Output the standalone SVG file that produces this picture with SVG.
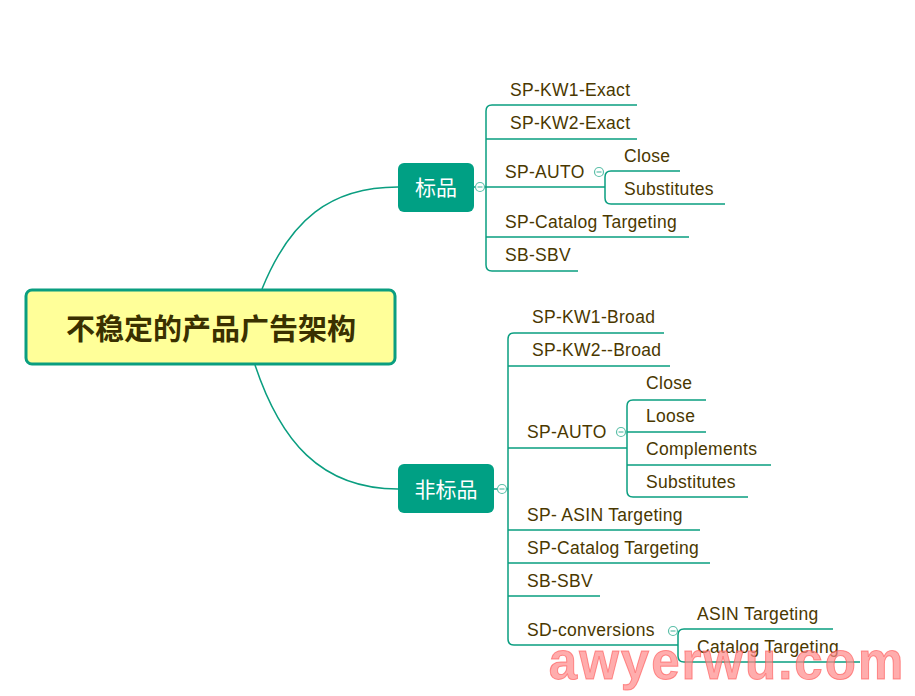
<svg xmlns="http://www.w3.org/2000/svg" width="915" height="696" viewBox="0 0 915 696">
<style>
.l{fill:none;stroke:#0a9e80;stroke-width:1.5}
.t{font-family:"Liberation Sans",sans-serif;font-size:17.5px;fill:#4a3800;letter-spacing:0.3px}
.c{fill:#fff;stroke:#5bbfa8;stroke-width:1.2}
.m{stroke:#5bbfa8;stroke-width:1.2}
</style>
<rect width="915" height="696" fill="#fff"/>
<g id="connectors">
<path class="l" d="M262,289 C290,220 330,187 398,187"/>
<path class="l" d="M255,365 C280,440 320,489 398,489"/>
<path class="l" d="M474,187 H486"/>
<path class="l" d="M637,105 H492 Q486,105 486,111 V265 Q486,271 492,271 H578"/>
<path class="l" d="M486,139 H637 M486,187 H605 M486,237 H689"/>
<path class="l" d="M680,171 H611 Q605,171 605,177 V198 Q605,204 611,204 H725"/>
<path class="l" d="M494,489 H508"/>
<path class="l" d="M664,333 H514 Q508,333 508,339 V639 Q508,645 514,645 H678"/>
<path class="l" d="M508,366 H670 M508,448 H627 M508,530 H700 M508,563 H710 M508,596 H600"/>
<path class="l" d="M706,400 H633 Q627,400 627,406 V491 Q627,497 633,497 H748"/>
<path class="l" d="M627,432 H706 M627,465 H771"/>
<path class="l" d="M833,629 H684 Q678,629 678,635 V656 Q678,662 684,662 H860"/>
</g>
<g id="main">
<rect x="26" y="290" width="369" height="74" rx="6" fill="#ffff99" stroke="#0a9e80" stroke-width="3"/>
<text x="211" y="340" text-anchor="middle" font-family="'Noto Sans CJK SC',sans-serif" font-size="29" font-weight="bold" fill="#3a3000">不稳定的产品广告架构</text>
</g>
<g id="biaopin">
<rect x="398" y="163" width="76" height="49" rx="6" fill="#00a084"/>
<text x="436" y="195" text-anchor="middle" font-family="'Noto Sans CJK SC',sans-serif" font-size="21" fill="#fff">标品</text>
<circle class="c" cx="480" cy="187" r="4.5"/><path class="m" d="M477.5,187H482.5"/>
</g>
<g id="feibiaopin">
<rect x="398" y="464" width="96" height="49" rx="6" fill="#00a084"/>
<text x="446" y="497" text-anchor="middle" font-family="'Noto Sans CJK SC',sans-serif" font-size="21" fill="#fff">非标品</text>
<circle class="c" cx="502" cy="489" r="4.5"/><path class="m" d="M499.5,489H504.5"/>
</g>
<g id="b-children">
<text class="t" x="510" y="96">SP-KW1-Exact</text>
<text class="t" x="510" y="129">SP-KW2-Exact</text>
<text class="t" x="505" y="178">SP-AUTO</text>
<circle class="c" cx="599" cy="172" r="4.5"/><path class="m" d="M596.5,172H601.5"/>
<text class="t" x="624" y="162">Close</text>
<text class="t" x="624" y="195">Substitutes</text>
<text class="t" x="505" y="228">SP-Catalog Targeting</text>
<text class="t" x="505" y="261">SB-SBV</text>
</g>
<g id="f-children">
<text class="t" x="532" y="323">SP-KW1-Broad</text>
<text class="t" x="532" y="356">SP-KW2--Broad</text>
<text class="t" x="527" y="438">SP-AUTO</text>
<circle class="c" cx="621" cy="432" r="4.5"/><path class="m" d="M618.5,432H623.5"/>
<text class="t" x="646" y="389">Close</text>
<text class="t" x="646" y="422">Loose</text>
<text class="t" x="646" y="455">Complements</text>
<text class="t" x="646" y="488">Substitutes</text>
<text class="t" x="527" y="521">SP- ASIN Targeting</text>
<text class="t" x="527" y="554">SP-Catalog Targeting</text>
<text class="t" x="527" y="587">SB-SBV</text>
<text class="t" x="527" y="636">SD-conversions</text>
<circle class="c" cx="673" cy="631" r="4.5"/><path class="m" d="M670.5,631H675.5"/>
<text class="t" x="697" y="620">ASIN Targeting</text>
<text class="t" x="697" y="653">Catalog Targeting</text>
</g>
<text x="727" y="679" text-anchor="middle" font-family="'Liberation Sans',sans-serif" font-size="51" font-weight="bold" letter-spacing="2" fill="#ff8a8a" fill-opacity="0.7" stroke="#ff5050" stroke-opacity="0.6">awyerwu.com</text>
</svg>
